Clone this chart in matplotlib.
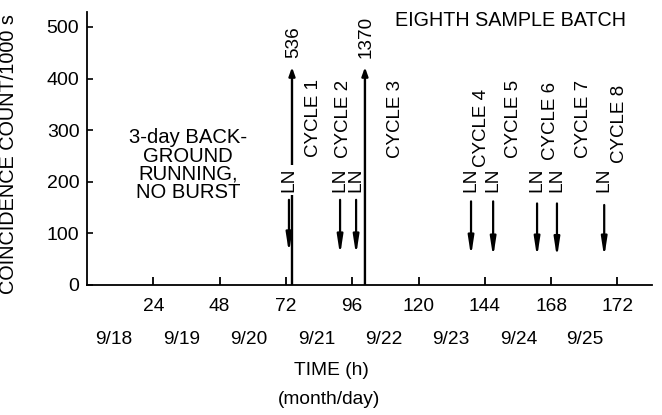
import matplotlib
matplotlib.use("Agg")
import matplotlib.pyplot as plt
from matplotlib.patches import FancyArrowPatch

# ---------------- data ----------------
x_ticks = [24, 48, 72, 96, 120, 144, 168, 192]
x_tick_labels = ["24", "48", "72", "96", "120", "144", "168", "172"]
y_ticks = [0, 100, 200, 300, 400, 500]

date_labels = ["9/18", "9/19", "9/20", "9/21", "9/22", "9/23", "9/24", "9/25"]
date_hours = [9.8, 34.4, 58.6, 83.3, 107.5, 131.8, 156.4, 180.3]

spike_hours = [74.2, 100.6]
spike_counts = [536, 1370]

ln_hours = [73.1, 91.6, 97.4, 139.0, 147.0, 162.9, 170.1, 187.2]
ln_top = [165, 165, 165, 162, 162, 158, 158, 155]
ln_tip = [62, 58, 58, 56, 54, 54, 53, 54]

cycle_labels = ["CYCLE 1", "CYCLE 2", "CYCLE 3", "CYCLE 4",
                "CYCLE 5", "CYCLE 6", "CYCLE 7", "CYCLE 8"]
cycle_hours = [82.0, 92.8, 111.5, 142.8, 154.4, 167.6, 179.7, 192.9]
cycle_bottom = [248, 246, 246, 229, 246, 242, 246, 236]

# ---------------- style ----------------
plt.rcParams["font.family"] = ["Liberation Sans", "DejaVu Sans"]
FS = 13.8
clip_top = 422        # height at which off-scale spikes are drawn

fig = plt.figure(figsize=(6.62, 4.15), dpi=100)
ax = fig.add_axes([0.1314, 0.3133, 0.8535, 0.6578])
ax.set_xlim(0, 204.5)
ax.set_ylim(0, 529)

for s in ["top", "right"]:
    ax.spines[s].set_visible(False)
for s in ["left", "bottom"]:
    ax.spines[s].set_linewidth(1.3)

ax.set_xticks(x_ticks)
ax.set_xticklabels(x_tick_labels, fontsize=FS)
ax.set_yticks(y_ticks)
ax.set_yticklabels([str(v) for v in y_ticks], fontsize=14)
ax.tick_params(axis="x", direction="in", length=6, width=1.3, pad=9.5)
ax.tick_params(axis="y", direction="in", length=4, width=1.2, pad=5.5)

ax.set_ylabel("COINCIDENCE COUNT/1000 s", fontsize=14.3)
ax.yaxis.set_label_coords(-0.122, 0.478)

# spikes (off-scale, drawn to clip_top with a small arrowhead)
for h, c in zip(spike_hours, spike_counts):
    top = min(c, clip_top)
    ax.add_patch(FancyArrowPatch((h, 0), (h, top),
                                 arrowstyle="-|>,head_length=0.5,head_width=0.18",
                                 mutation_scale=10, lw=1.7, color="black",
                                 shrinkA=0, shrinkB=0, zorder=2))
    ax.text(h + 0.6, top + 18, str(c), rotation=90, ha="center", va="bottom",
            fontsize=13.6)

# LN arrows and labels (label masks a spike that runs through it)
for h, t, b in zip(ln_hours, ln_top, ln_tip):
    ax.add_patch(FancyArrowPatch((h, t), (h, b),
                                 arrowstyle="-|>,head_length=1.1,head_width=0.17",
                                 mutation_scale=10, lw=1.6, color="black",
                                 shrinkA=0, shrinkB=0, zorder=3))
    masks = any(0 < sh - h < 2 for sh in spike_hours)
    ax.text(h, 180, "LN", rotation=90, ha="center", va="bottom", fontsize=13.8,
            zorder=4,
            bbox=dict(boxstyle="square,pad=0.15", fc="white", ec="none")
            if masks else None)

# CYCLE labels
for lab, h, b in zip(cycle_labels, cycle_hours, cycle_bottom):
    ax.text(h, b, lab, rotation=90, ha="center", va="bottom", fontsize=13.5)

ax.text(153.2, 513, "EIGHTH SAMPLE BATCH", ha="center", va="center",
        fontsize=14.2)

ax.text(36.5, 232, "3-day BACK-\nGROUND\nRUNNING,\nNO BURST", ha="center",
        va="center", fontsize=14.6, linespacing=0.95)

# date labels and axis titles
trans = ax.get_xaxis_transform()
for lab, h in zip(date_labels, date_hours):
    ax.text(h, -0.2, lab, transform=trans, ha="center", va="center",
            fontsize=FS, clip_on=False)
ax.text(88.3, -0.315, "TIME (h)", transform=trans, ha="center", va="center",
        fontsize=13.8, clip_on=False)
ax.text(87.5, -0.42, "(month/day)", transform=trans, ha="center",
        va="center", fontsize=13.8, clip_on=False)

fig.savefig("out.png", dpi=100)
